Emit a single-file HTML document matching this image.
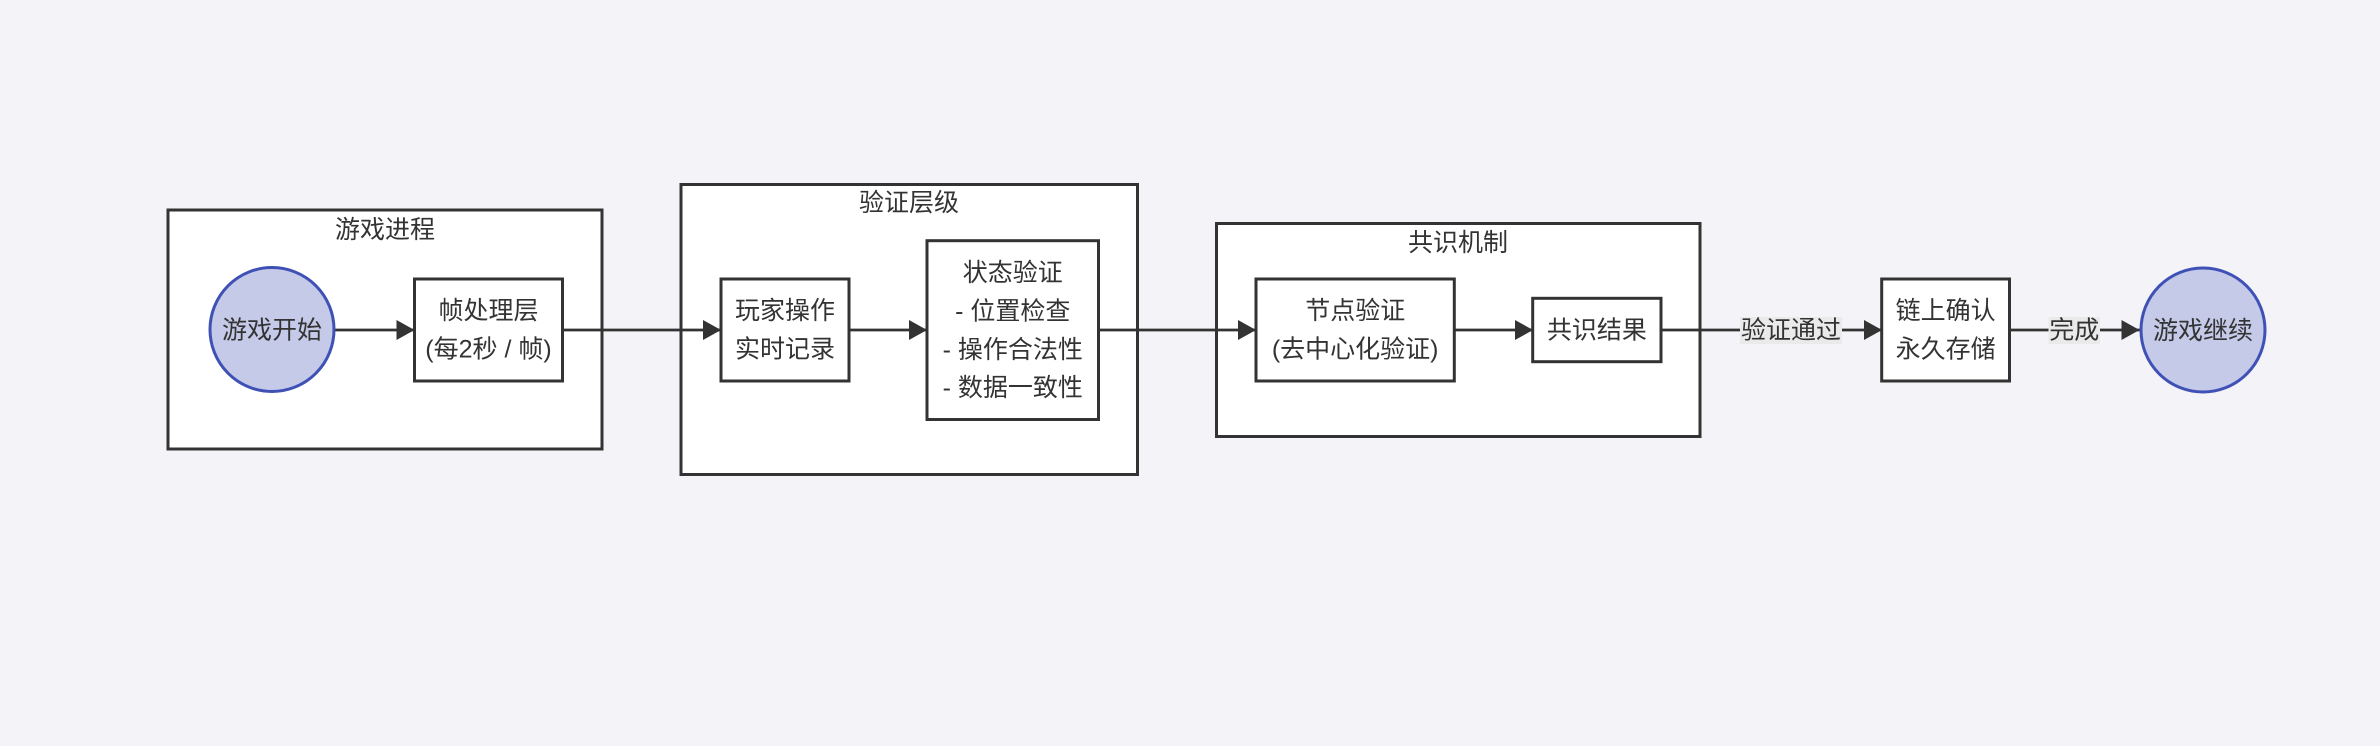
<!DOCTYPE html>
<html>
<head>
<meta charset="utf-8">
<style>
  html, body { margin: 0; padding: 0; background: #f4f4f8; }
  svg { display: block; }
  text { font-family: "Liberation Sans", "Noto Sans CJK SC", sans-serif; font-size: 25px; fill: #333; text-anchor: middle; dominant-baseline: central; }
</style>
</head>
<body>
<svg width="2380" height="746" viewBox="0 0 2380 746" xmlns="http://www.w3.org/2000/svg">
  <defs>
    <marker id="ah" viewBox="0 0 18 20" refX="18" refY="10" markerWidth="18" markerHeight="20" markerUnits="userSpaceOnUse" orient="auto">
      <path d="M0,0 L18,10 L0,20 Z" fill="#333"/>
    </marker>
  </defs>
  <rect x="0" y="0" width="2380" height="746" fill="#f4f4f8"/>

  <!-- Clusters -->
  <rect x="168" y="210" width="434" height="239" fill="#fff" stroke="#333" stroke-width="3"/>
  <text x="385" y="230">游戏进程</text>

  <rect x="681" y="184.5" width="456.5" height="290" fill="#fff" stroke="#333" stroke-width="3"/>
  <text x="909" y="203">验证层级</text>

  <rect x="1216.5" y="223.5" width="483.5" height="213" fill="#fff" stroke="#333" stroke-width="3"/>
  <text x="1458" y="243">共识机制</text>

  <!-- Edges -->
  <g stroke="#333" stroke-width="2.8" fill="none">
    <line x1="335" y1="330" x2="414.5" y2="330" marker-end="url(#ah)"/>
    <line x1="563" y1="330" x2="721" y2="330" marker-end="url(#ah)"/>
    <line x1="849" y1="330" x2="927" y2="330" marker-end="url(#ah)"/>
    <line x1="1098.5" y1="330" x2="1256" y2="330" marker-end="url(#ah)"/>
    <line x1="1454" y1="330" x2="1533" y2="330" marker-end="url(#ah)"/>
    <line x1="1661" y1="330" x2="1882" y2="330" marker-end="url(#ah)"/>
    <line x1="2009.5" y1="330" x2="2139.5" y2="330" marker-end="url(#ah)"/>
  </g>

  <!-- Edge labels -->
  <rect x="1740" y="317" width="102" height="27" fill="#eaeaeb"/>
  <text x="1791" y="330.5">验证通过</text>
  <rect x="2048.5" y="317" width="51.5" height="27" fill="#eaeaeb"/>
  <text x="2074.3" y="330.5">完成</text>

  <!-- Circle start -->
  <circle cx="272" cy="329.5" r="62" fill="#c5cae9" stroke="#3f51b5" stroke-width="3"/>
  <text x="272" y="330.5">游戏开始</text>

  <!-- 帧处理层 -->
  <rect x="414.5" y="279" width="148" height="102" fill="#fff" stroke="#333" stroke-width="3"/>
  <text x="488.5" y="311">帧处理层</text>
  <text x="488.5" y="349.5">(每2秒 / 帧)</text>

  <!-- 玩家操作 -->
  <rect x="721" y="279" width="128" height="102" fill="#fff" stroke="#333" stroke-width="3"/>
  <text x="785" y="311">玩家操作</text>
  <text x="785" y="349.5">实时记录</text>

  <!-- 状态验证 -->
  <rect x="927" y="240.7" width="171.5" height="178.8" fill="#fff" stroke="#333" stroke-width="3"/>
  <text x="1012.8" y="273">状态验证</text>
  <text x="1012.8" y="311.5">- 位置检查</text>
  <text x="1012.8" y="349.8">- 操作合法性</text>
  <text x="1012.8" y="388">- 数据一致性</text>

  <!-- 节点验证 -->
  <rect x="1256" y="279" width="198.3" height="102" fill="#fff" stroke="#333" stroke-width="3"/>
  <text x="1355.2" y="311">节点验证</text>
  <text x="1355.2" y="349.5">(去中心化验证)</text>

  <!-- 共识结果 -->
  <rect x="1532.7" y="298.3" width="128.3" height="63.4" fill="#fff" stroke="#333" stroke-width="3"/>
  <text x="1596.9" y="330.5">共识结果</text>

  <!-- 链上确认 -->
  <rect x="1881.7" y="279" width="127.8" height="102" fill="#fff" stroke="#333" stroke-width="3"/>
  <text x="1945.6" y="311">链上确认</text>
  <text x="1945.6" y="349.5">永久存储</text>

  <!-- Circle end -->
  <circle cx="2203" cy="330" r="62" fill="#c5cae9" stroke="#3f51b5" stroke-width="3"/>
  <text x="2203" y="331">游戏继续</text>
</svg>
</body>
</html>
